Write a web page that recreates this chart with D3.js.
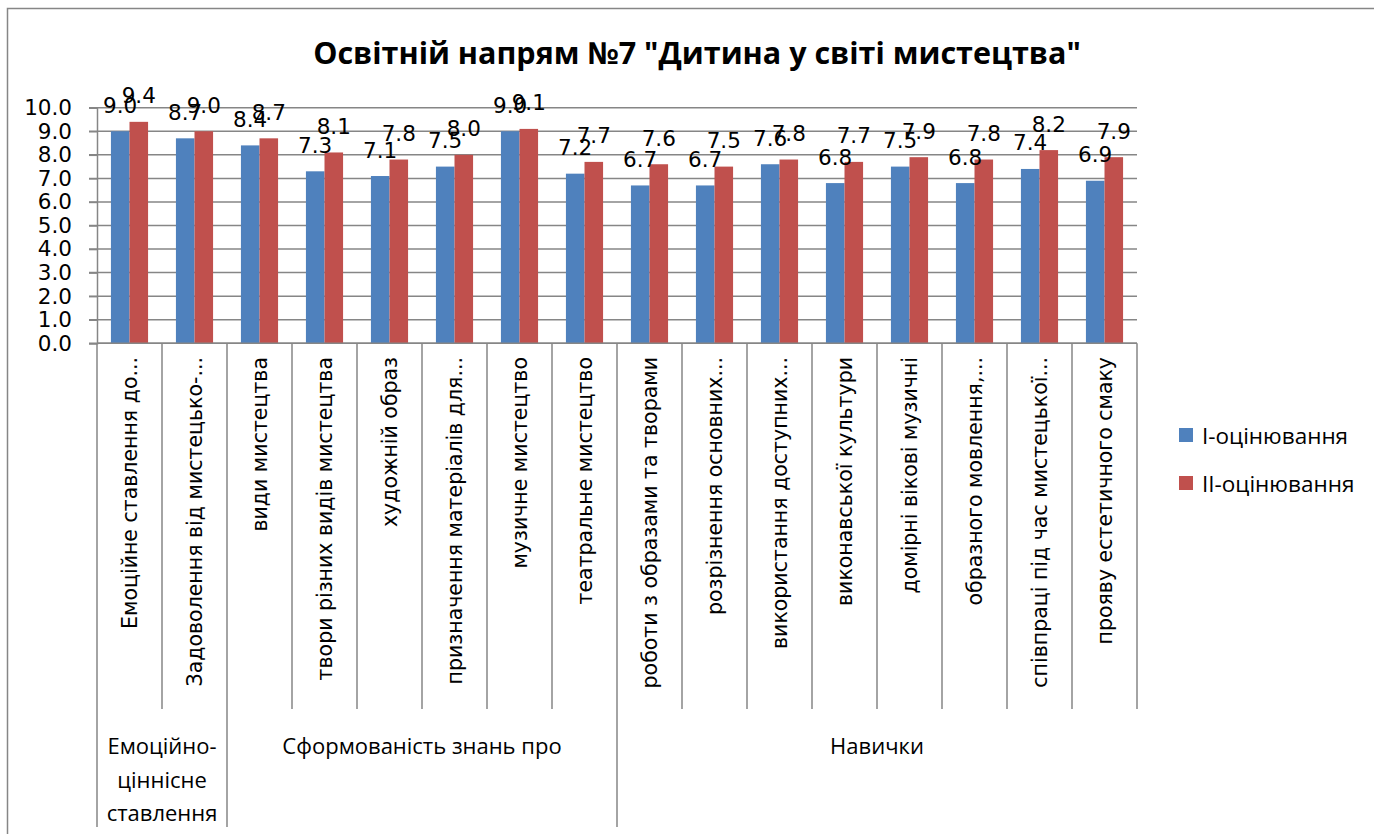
<!DOCTYPE html>
<html lang="uk">
<head>
  <meta charset="UTF-8">
  <title>Освітній напрям №7</title>
  <script src="https://d3js.org/d3.v7.min.js"></script>
  <style>
    body { margin: 0; background: #fff; }
    svg text { fill: #000; }
  </style>
</head>
<body>
  <script>
    // chart data
    var categories = [
      "Емоційне ставлення до...",
      "Задоволення від мистецько-...",
      "види мистецтва",
      "твори різних видів мистецтва",
      "художній образ",
      "призначення матеріалів для...",
      "музичне мистецтво",
      "театральне мистецтво",
      "роботи з образами та творами",
      "розрізнення основних...",
      "використання доступних...",
      "виконавської культури",
      "домірні вікові музичні",
      "образного мовлення,...",
      "співпраці під час мистецької...",
      "прояву естетичного смаку"
    ];
    var groups = ["Емоційно-ціннісне ставлення", "Сформованість знань про", "Навички"];
    var groupSizes = [2, 6, 8];
    var seriesNames = ["I-оцінювання", "II-оцінювання"];
    var firstValues  = [9.0, 8.7, 8.4, 7.3, 7.1, 7.5, 9.0, 7.2, 6.7, 6.7, 7.6, 6.8, 7.5, 6.8, 7.4, 6.9];
    var secondValues = [9.4, 9.0, 8.7, 8.1, 7.8, 8.0, 9.1, 7.7, 7.6, 7.5, 7.8, 7.7, 7.9, 7.8, 8.2, 7.9];
    var yTicks = [0, 1, 2, 3, 4, 5, 6, 7, 8, 9, 10];

    var colors = ["#4F81BD", "#C0504D"];
    var gridColor = "#868686";

    var width = 1374, height = 834;
    var plotLeft = 97, plotRight = 1137, plotTop = 107.7, plotBottom = 343.3;

    var svg = d3.select("body").append("svg")
      .attr("width", width)
      .attr("height", height);

    // outer chart frame
    svg.append("path")
      .attr("d", "M7.5," + height + "V8.5H" + width)
      .attr("fill", "none")
      .attr("stroke", gridColor)
      .attr("stroke-width", 1.5);

    svg.append("text")
      .attr("x", 697)
      .attr("y", 52)
      .attr("text-anchor", "middle")
      .attr("dominant-baseline", "central")
      .style("font-family", "'Open Sans', sans-serif")
      .style("font-weight", "bold")
      .style("font-size", "30.5px")
      .text("Освітній напрям №7 \"Дитина у світі мистецтва\"");

    var y = d3.scaleLinear().domain([0, 10]).range([plotBottom, plotTop]);
    var x0 = d3.scaleBand().domain(categories).range([plotLeft, plotRight]);
    var bw = x0.bandwidth();
    var barW = bw / 3.5;
    var x1 = d3.scaleBand().domain(seriesNames)
      .range([(bw - 2 * barW) / 2, (bw + 2 * barW) / 2]);

    // gridlines
    svg.append("g")
      .selectAll("line")
      .data(yTicks)
      .join("line")
      .attr("x1", plotLeft - 8)
      .attr("x2", plotRight)
      .attr("y1", d => y(d))
      .attr("y2", d => y(d))
      .attr("stroke", gridColor)
      .attr("stroke-width", 1.5);

    // y axis
    var yAxis = svg.append("g")
      .attr("transform", "translate(" + plotLeft + ",0)")
      .call(d3.axisLeft(y).tickValues(yTicks).tickFormat(d3.format(".1f")).tickSize(8).tickPadding(17));
    yAxis.select(".domain").attr("stroke", gridColor).attr("stroke-width", 1.5);
    yAxis.selectAll(".tick line").attr("stroke", gridColor).attr("stroke-width", 1.5);
    yAxis.selectAll("text")
      .style("font-family", "'DejaVu Sans', sans-serif")
      .style("font-size", "21.5px")
      .attr("fill", "#000");

    var series = [firstValues, secondValues];

    // bars
    var catG = svg.append("g").selectAll("g")
      .data(categories)
      .join("g")
      .attr("transform", d => "translate(" + x0(d) + ",0)");

    catG.selectAll("rect")
      .data((d, i) => series.map((s, k) => ({ name: seriesNames[k], k: k, v: s[i] })))
      .join("rect")
      .attr("x", d => x1(d.name))
      .attr("width", x1.bandwidth())
      .attr("y", d => y(d.v))
      .attr("height", d => y(0) - y(d.v))
      .attr("fill", d => colors[d.k]);

    // data labels
    catG.selectAll("text.lbl")
      .data((d, i) => series.map((s, k) => ({ name: seriesNames[k], k: k, v: s[i] })))
      .join("text")
      .attr("class", "lbl")
      .attr("x", d => x1(d.name) + x1.bandwidth() / 2)
      .attr("y", d => y(d.v) - 18.5)
      .attr("text-anchor", "middle")
      .style("font-family", "'DejaVu Sans', sans-serif")
      .style("font-size", "21.5px")
      .text(d => d3.format(".1f")(d.v));

    // category axis line
    svg.append("line")
      .attr("x1", plotLeft).attr("x2", plotRight)
      .attr("y1", plotBottom).attr("y2", plotBottom)
      .attr("stroke", gridColor).attr("stroke-width", 1.5);

    // category separators
    var bounds = categories.map(c => x0(c)).concat([plotRight]);
    var groupBounds = [0];
    groupSizes.forEach((n, i) => groupBounds.push(groupBounds[i] + n));
    svg.append("g")
      .selectAll("line")
      .data(bounds)
      .join("line")
      .attr("x1", d => d).attr("x2", d => d)
      .attr("y1", plotBottom)
      .attr("y2", (d, i) => (groupBounds.indexOf(i) >= 0 && i < categories.length) ? 827 : 709)
      .attr("stroke", gridColor)
      .attr("stroke-width", 1.5);

    // category labels (rotated)
    svg.append("g")
      .selectAll("text")
      .data(categories)
      .join("text")
      .attr("transform", d => "translate(" + (x0(d) + bw / 2) + ",357) rotate(-90)")
      .attr("text-anchor", "end")
      .attr("dominant-baseline", "central")
      .style("font-family", "'DejaVu Sans', sans-serif")
      .style("font-size", "20.5px")
      .text(d => d);

    // group labels
    var groupLines = [["Емоційно-", "ціннісне", "ставлення"], ["Сформованість знань про"], ["Навички"]];
    groupLines.forEach(function (lines, g) {
      var cx = (bounds[groupBounds[g]] + bounds[groupBounds[g + 1]]) / 2;
      svg.append("text")
        .attr("x", cx)
        .attr("y", 745)
        .attr("text-anchor", "middle")
        .attr("dominant-baseline", "central")
        .style("font-family", "'Open Sans', sans-serif")
        .style("font-size", "22px")
        .selectAll("tspan")
        .data(lines)
        .join("tspan")
        .attr("x", cx)
        .attr("dy", (d, i) => i === 0 ? 0 : 33.5)
        .text(d => d);
    });

    // legend
    var legend = svg.append("g")
      .selectAll("g")
      .data(seriesNames)
      .join("g")
      .attr("transform", (d, i) => "translate(1179," + (428 + i * 48) + ")");
    legend.append("rect")
      .attr("width", 14).attr("height", 14)
      .attr("fill", (d, i) => colors[i]);
    legend.append("text")
      .attr("x", 23).attr("y", 7)
      .attr("dominant-baseline", "central")
      .style("font-family", "'Open Sans', sans-serif")
      .style("font-size", "22.5px")
      .text(d => d);
  </script>
</body>
</html>
